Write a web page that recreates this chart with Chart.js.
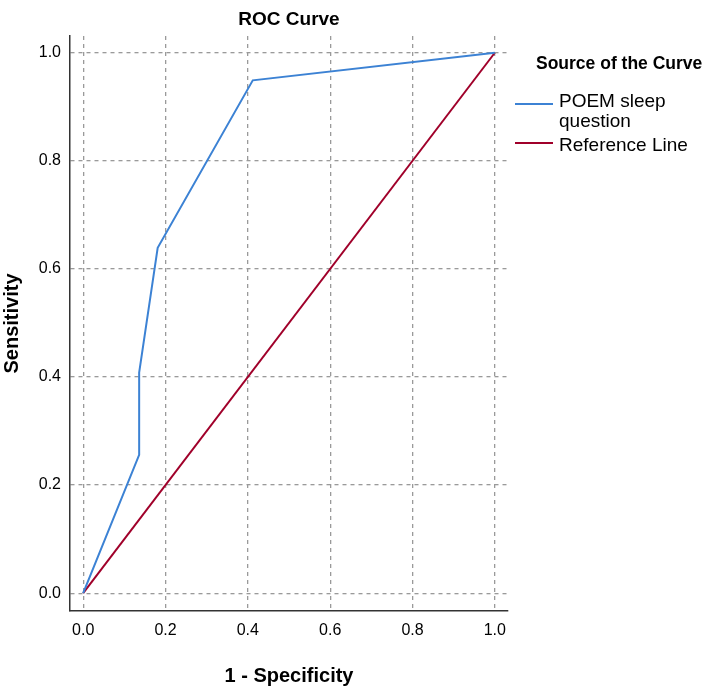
<!DOCTYPE html>
<html>
<head>
<meta charset="utf-8">
<script src="https://cdn.jsdelivr.net/npm/chart.js@4/dist/chart.umd.min.js"></script>
<style>
body { margin: 0; background: #fff; }
#wrap { position: relative; width: 713px; height: 688px; font-family: "Liberation Sans", Arial, sans-serif; }
#legend { position: absolute; left: 0; top: 0; }
.lg-title { position: absolute; left: 536px; top: 53px; font-size: 17.5px; font-weight: bold; white-space: nowrap; color: #000; }
.lg-line { position: absolute; left: 515px; width: 38px; height: 2px; }
.lg-text { position: absolute; left: 559px; font-size: 19px; line-height: 20px; white-space: nowrap; color: #000; }
</style>
</head>
<body>
<div id="wrap">
<canvas id="roc" width="713" height="688"></canvas>
<div id="legend"></div>
</div>
<script>
// ROC points
const rocX = [0, 0.136, 0.136, 0.181, 0.412, 1];
const rocY = [0, 0.256, 0.408, 0.639, 0.949, 1];
const refX = [0, 1];
const refY = [0, 1];
const xTicks = [0, 0.2, 0.4, 0.6, 0.8, 1.0];
const yTicks = [0, 0.2, 0.4, 0.6, 0.8, 1.0];
const seriesNames = ["POEM sleep\nquestion", "Reference Line"];
const seriesColors = ["#3c82d4", "#a0002a"];

const toPts = (xs, ys) => xs.map((x, i) => ({ x: x, y: ys[i] }));

// html legend
const legend = document.getElementById("legend");
legend.innerHTML =
  '<div class="lg-title">Source of the Curve</div>' +
  '<div class="lg-line" style="top:103px;background:' + seriesColors[0] + '"></div>' +
  '<div class="lg-text" style="top:91px">' + seriesNames[0].replace("\n", "<br>") + '</div>' +
  '<div class="lg-line" style="top:142px;background:' + seriesColors[1] + '"></div>' +
  '<div class="lg-text" style="top:135px">' + seriesNames[1] + '</div>';

const gridStyle = { color: "#9a9a9a", lineWidth: 1.3, drawTicks: false };
const borderStyle = { display: true, color: "#333", width: 1.5, dash: [4, 4] };

new Chart(document.getElementById("roc"), {
  type: "scatter",
  data: {
    datasets: [
      {
        label: seriesNames[0],
        data: toPts(rocX, rocY),
        showLine: true,
        borderColor: seriesColors[0],
        borderWidth: 2,
        pointRadius: 0,
        tension: 0
      },
      {
        label: seriesNames[1],
        data: toPts(refX, refY),
        showLine: true,
        borderColor: seriesColors[1],
        borderWidth: 2,
        pointRadius: 0,
        tension: 0
      }
    ]
  },
  options: {
    responsive: false,
    animation: false,
    layout: { padding: { left: 0, right: 205, top: 0, bottom: 0 } },
    plugins: {
      legend: { display: false },
      tooltip: { enabled: false },
      title: {
        display: true,
        text: "ROC Curve",
        fullSize: false,
        color: "#000",
        font: { family: "Liberation Sans", size: 19, weight: "bold" },
        padding: { top: 8, bottom: 5.2 }
      }
    },
    scales: {
      x: {
        type: "linear",
        min: -0.032,
        max: 1.032,
        afterBuildTicks: s => { s.ticks = xTicks.map(v => ({ value: v })); },
        afterFit: s => { s.height = 77; },
        grid: gridStyle,
        border: borderStyle,
        ticks: {
          padding: 10,
          color: "#000",
          font: { family: "Liberation Sans", size: 16 },
          callback: v => v.toFixed(1)
        },
        title: {
          display: true,
          text: "1 - Specificity",
          color: "#000",
          font: { family: "Liberation Sans", size: 20, weight: "bold" },
          padding: { top: 6, bottom: 0 }
        }
      },
      y: {
        type: "linear",
        min: -0.033,
        max: 1.031,
        afterBuildTicks: s => { s.ticks = yTicks.map(v => ({ value: v })); },
        afterFit: s => { s.width = 70; },
        grid: gridStyle,
        border: borderStyle,
        ticks: {
          padding: 9,
          color: "#000",
          font: { family: "Liberation Sans", size: 16 },
          callback: v => v.toFixed(1)
        },
        title: {
          display: true,
          text: "Sensitivity",
          color: "#000",
          font: { family: "Liberation Sans", size: 20, weight: "bold" },
          padding: { top: 0, bottom: 0 }
        }
      }
    }
  }
});
</script>
</body>
</html>
